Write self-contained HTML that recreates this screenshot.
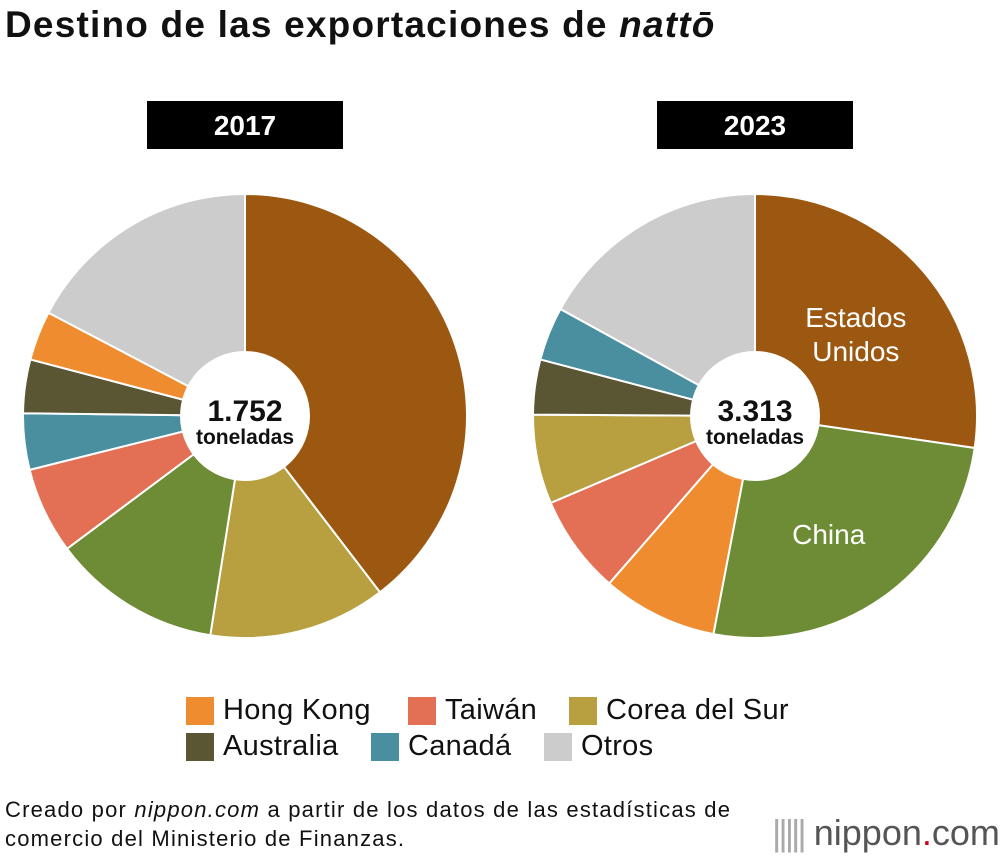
<!DOCTYPE html>
<html><head><meta charset="utf-8">
<style>
body{margin:0;width:1000px;height:860px;background:#fff;font-family:"Liberation Sans",sans-serif;overflow:hidden;position:relative}
.t{position:absolute;left:5px;top:4px;font-size:37px;font-weight:bold;color:#111;letter-spacing:1.2px}
.yr{position:absolute;top:101px;width:196px;height:48px;background:#000;color:#fff;font-size:28px;font-weight:bold;text-align:center;line-height:50px}
.leg{position:absolute;font-size:29px;color:#111;display:flex;align-items:center;letter-spacing:0.3px}
.sw{width:28px;height:28px;margin-right:9px}
.src{position:absolute;left:5px;top:795px;font-size:22px;line-height:29px;color:#111;letter-spacing:1.2px}
.logo{position:absolute;left:772px;top:812px;font-size:36px;color:#555}
</style></head><body>
<div class="t">Destino de las exportaciones de <i>nattō</i></div>
<div class="yr" style="left:147px">2017</div>
<div class="yr" style="left:657px">2023</div>
<svg id="pies" width="1000" height="860" style="position:absolute;left:0;top:0"></svg>
<div class="leg" style="left:186px;top:694px"><div class="sw" style="background:#f08c30"></div>Hong Kong</div>
<div class="leg" style="left:408px;top:694px"><div class="sw" style="background:#e36f55"></div>Taiwán</div>
<div class="leg" style="left:569px;top:694px"><div class="sw" style="background:#b8a040"></div>Corea del Sur</div>
<div class="leg" style="left:186px;top:730px"><div class="sw" style="background:#5a5634"></div>Australia</div>
<div class="leg" style="left:371px;top:730px"><div class="sw" style="background:#4a8fa0"></div>Canadá</div>
<div class="leg" style="left:544px;top:730px"><div class="sw" style="background:#cccccc"></div>Otros</div>
<div class="src">Creado por <i>nippon.com</i> a partir de los datos de las estadísticas de<br>comercio del Ministerio de Finanzas.</div>
<div class="logo"><span style="letter-spacing:-3px;color:#aaa">|||||</span> nippon<span style="color:#d0021b">.</span>com</div>
<script>
const colors={us:"#9c5811",cn:"#6e8c35",kr:"#b8a040",tw:"#e36f55",hk:"#f08c30",au:"#5a5634",ca:"#4a8fa0",ot:"#cccccc"};
const cats2017=["us","kr","cn","tw","ca","au","hk","ot"];
const vals2017=[39.6,12.9,12.3,6.3,4.1,3.9,3.6,17.3];
const cats2023=["us","cn","hk","tw","kr","au","ca","ot"];
const vals2023=[27.3,25.7,8.4,7.2,6.5,4.0,3.9,17.0];
const totals=["1.752","3.313"];
const svg=document.getElementById('pies');
const NS="http://www.w3.org/2000/svg";
function pie(cx,cy,r,cats,vals,tot,name){
  const sum=vals.reduce((a,b)=>a+b,0);let a0=0;
  const mids=[];
  cats.forEach((c,i)=>{
    const a1=a0+vals[i]/sum*2*Math.PI;
    const x0=cx+r*Math.sin(a0),y0=cy-r*Math.cos(a0),x1=cx+r*Math.sin(a1),y1=cy-r*Math.cos(a1);
    const p=document.createElementNS(NS,'path');
    p.setAttribute('d',`M${cx},${cy}L${x0},${y0}A${r},${r} 0 ${a1-a0>Math.PI?1:0} 1 ${x1},${y1}Z`);
    p.setAttribute('fill',colors[c]);p.setAttribute('stroke','#fff');p.setAttribute('stroke-width','2');
    
    
    svg.appendChild(p);mids.push((a0+a1)/2);a0=a1;
  });
  const h=document.createElementNS(NS,'circle');
  h.setAttribute('cx',cx);h.setAttribute('cy',cy);h.setAttribute('r',65);h.setAttribute('fill','#fff');
  
  
  svg.appendChild(h);
  [[tot,5,30],["toneladas",28,21]].forEach(([s,dy,fs])=>{
    const t=document.createElementNS(NS,'text');
    t.setAttribute('x',cx);t.setAttribute('y',cy+dy);t.setAttribute('text-anchor','middle');
    t.setAttribute('font-size',fs);t.setAttribute('font-weight','bold');t.setAttribute('fill','#111');
    t.setAttribute('font-family','Liberation Sans Narrow, Liberation Sans, sans-serif');
    t.textContent=s;
    
    
    svg.appendChild(t);
  });
  return mids;
}
pie(245,416,222,cats2017,vals2017,totals[0],'pie-2017');
const m=pie(755,416,222,cats2023,vals2023,totals[1],'pie-2023');
function lbl(lines,ang,rr,name){
  lines.forEach((s,i)=>{
    const t=document.createElementNS(NS,'text');
    t.setAttribute('x',755+rr*Math.sin(ang));t.setAttribute('y',416-rr*Math.cos(ang)+i*34-(lines.length-1)*17+10);
    t.setAttribute('text-anchor','middle');t.setAttribute('font-size',28);t.setAttribute('fill','#fff');
    t.textContent=s;
    
    
    svg.appendChild(t);
  });
}
lbl(["Estados","Unidos"],m[0]+0.03,130,'slice-label-us');
lbl(["China"],m[1]+0.06,139,'slice-label-china');
</script>
</body></html>
